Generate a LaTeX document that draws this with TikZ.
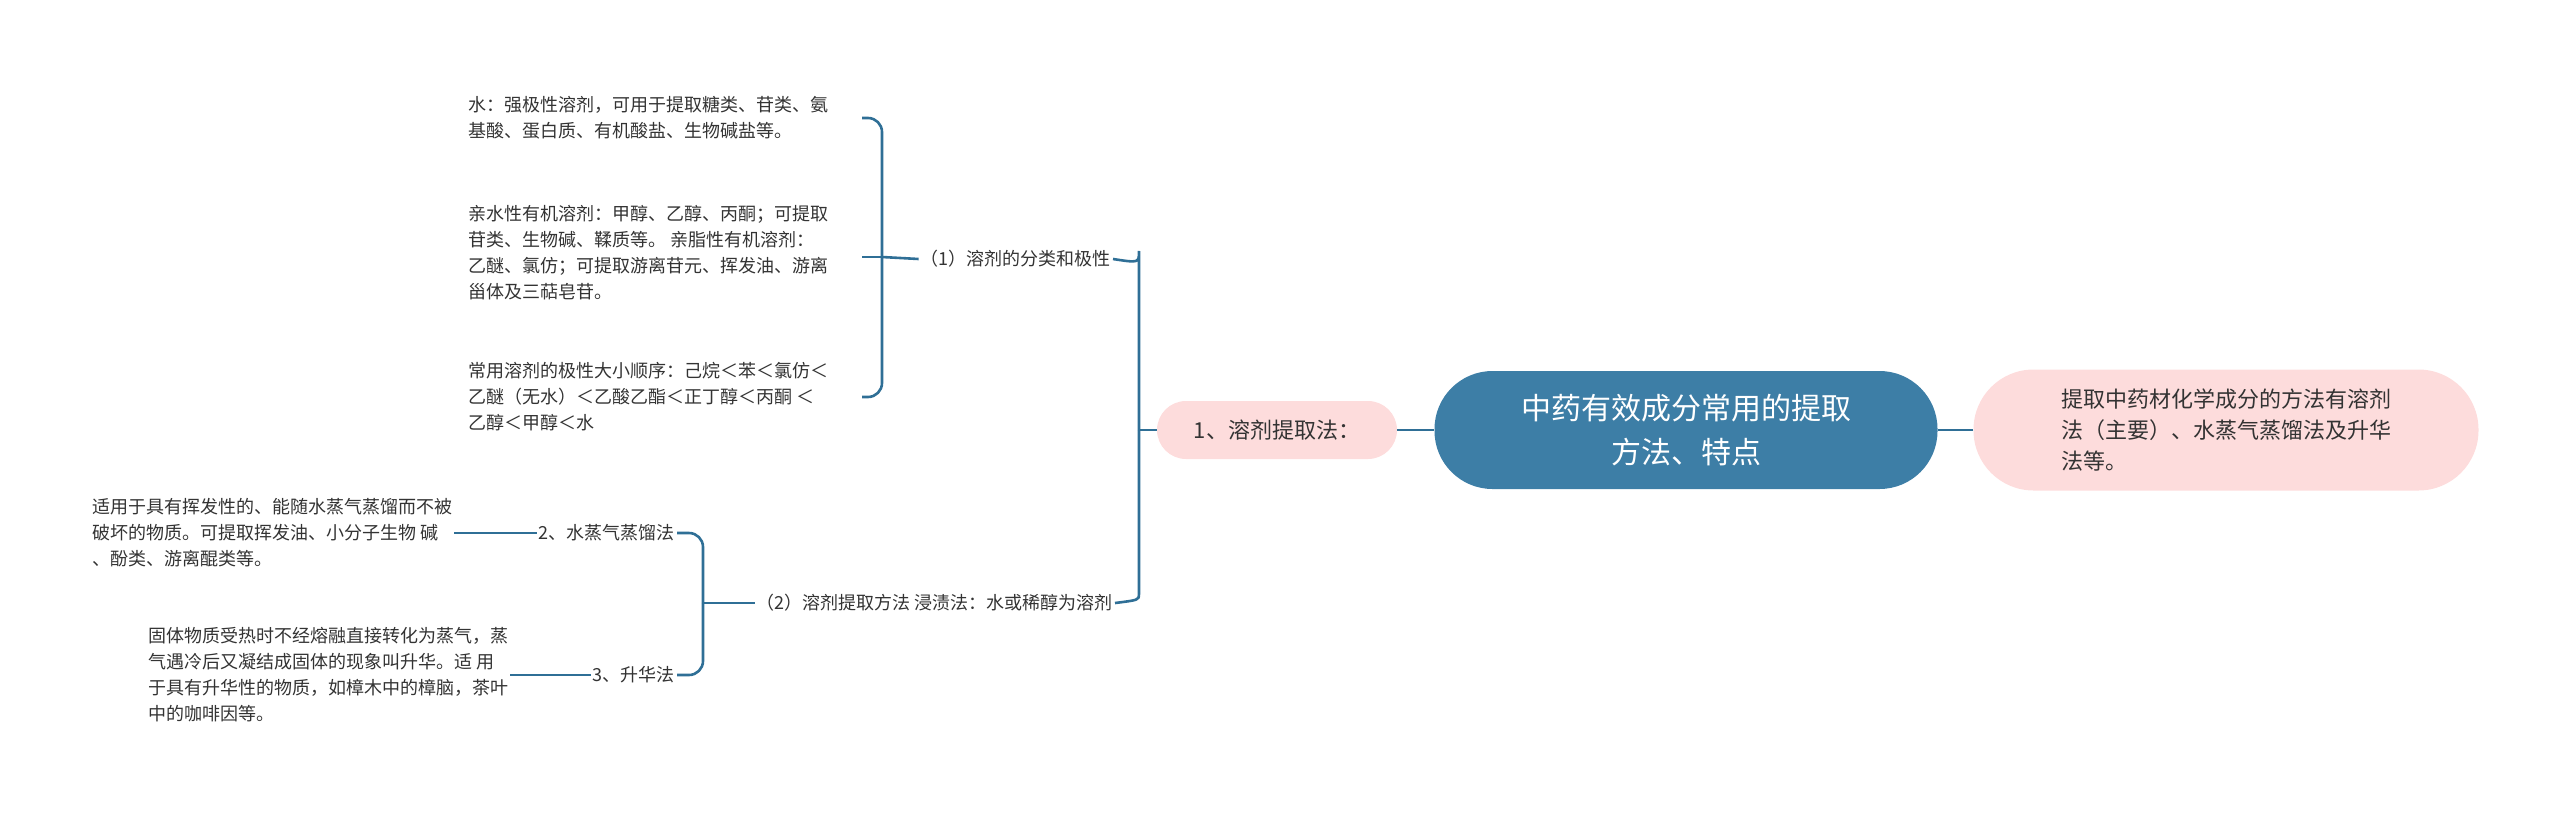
\documentclass[tikz,border=0pt]{standalone}
\usepackage{fontspec}
\setmainfont{Noto Sans CJK SC}
\definecolor{lc}{HTML}{2F6F96}
\definecolor{cb}{HTML}{3D7EA6}
\definecolor{pk}{HTML}{FDDCDC}
\definecolor{tx}{HTML}{333333}
\begin{document}
\begin{tikzpicture}[x=1pt,y=-1pt,
  leaf/.style={anchor=west,align=left,font=\fontsize{18}{26}\selectfont,text=tx,inner sep=2pt},
  lbl/.style={anchor=east,font=\fontsize{18}{26}\selectfont,text=tx,inner sep=2pt},
  conn/.style={draw=lc,line width=2.6pt,rounded corners=14pt}]
\useasboundingbox (0,0) rectangle (2560,817);
\node[fill=cb,rounded corners=58pt,minimum width=503pt,minimum height=118pt,text=white,align=center,font=\fontsize{30}{44}\selectfont] (c) at (1686,430) {中药有效成分常用的提取\\方法、特点};
\node[fill=pk,rounded corners=60pt,minimum width=505pt,minimum height=121pt,text=tx,align=left,font=\fontsize{22}{31}\selectfont] (r) at (2226,430) {提取中药材化学成分的方法有溶剂\\法（主要）、水蒸气蒸馏法及升华\\法等。};
\node[fill=pk,rounded corners=29pt,minimum width=240pt,minimum height=58pt,text=tx,font=\fontsize{22}{30}\selectfont] (a) at (1277,430) {1、溶剂提取法：};
\node[lbl] (p1) at (1113,259) {（1）溶剂的分类和极性};
\node[lbl] (p2) at (1115,603) {（2）溶剂提取方法 浸渍法：水或稀醇为溶剂};
\node[leaf] (t1) at (466,118) {水：强极性溶剂，可用于提取糖类、苷类、氨\\基酸、蛋白质、有机酸盐、生物碱盐等。};
\node[leaf] (t2) at (466,253) {亲水性有机溶剂：甲醇、乙醇、丙酮；可提取\\苷类、生物碱、鞣质等。 亲脂性有机溶剂：\\乙醚、氯仿；可提取游离苷元、挥发油、游离\\甾体及三萜皂苷。};
\node[leaf] (t3) at (466,397) {常用溶剂的极性大小顺序：己烷＜苯＜氯仿＜\\乙醚（无水）＜乙酸乙酯＜正丁醇＜丙酮 ＜\\乙醇＜甲醇＜水};
\node[lbl] (s2) at (677,533) {2、水蒸气蒸馏法};
\node[lbl] (s3) at (677,675) {3、升华法};
\node[leaf] (u2) at (90,533) {适用于具有挥发性的、能随水蒸气蒸馏而不被\\破坏的物质。可提取挥发油、小分子生物 碱\\、酚类、游离醌类等。};
\node[leaf] (u3) at (146,675) {固体物质受热时不经熔融直接转化为蒸气，蒸\\气遇冷后又凝结成固体的现象叫升华。适 用\\于具有升华性的物质，如樟木中的樟脑，茶叶\\中的咖啡因等。};
\draw[conn] (r.west) -- (c.east);
\draw[conn] (c.west) -- (a.west -| c.west) (a.east) -- (c.west);
\draw[conn] (a.west) -- (1139,430);
\draw[conn] (1139,430) -- (1139,285) -- ++(0,-20) .. controls (1139,263) .. (p1.east);
\draw[conn] (1139,430) -- (1139,580) .. controls (1139,600) .. (p2.east);
\draw[conn] (p1.west) -- (882,257);
\draw[conn] (882,257) |- (t1.east -| 862,118);
\draw[conn] (882,257) |- (862,397);
\draw[conn] (882,257) -- (862,257);
\draw[conn] (p2.west) -- (703,603);
\draw[conn] (703,603) |- (s2.east);
\draw[conn] (703,603) |- (s3.east);
\draw[conn] (s2.west) -- (u2.east);
\draw[conn] (s3.west) -- (u3.east);
\end{tikzpicture}
\end{document}
